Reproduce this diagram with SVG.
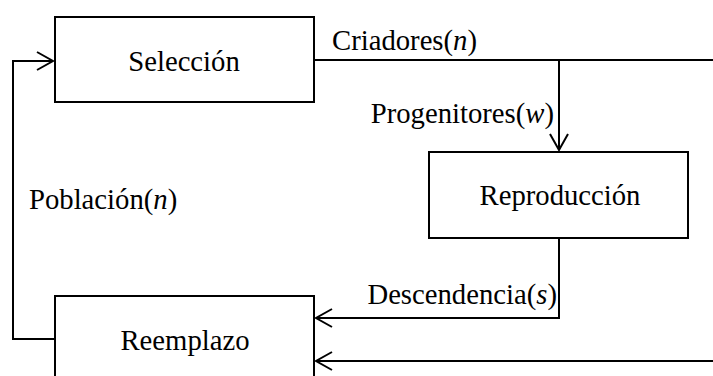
<svg xmlns="http://www.w3.org/2000/svg" width="713" height="376" viewBox="0 0 713 376">
<style>
.box{fill:#fff;stroke:#000;stroke-width:2}
.ln{fill:none;stroke:#000;stroke-width:2}
text{font-family:"Liberation Serif","Times New Roman",serif;font-size:28.7px;fill:#000}
.c{text-anchor:middle}
.e{text-anchor:end}
</style>
<defs>
<marker id="ah" markerUnits="userSpaceOnUse" markerWidth="20" markerHeight="22" viewBox="-18 -11 20 22" refX="0" refY="0" orient="auto">
<path d="M-16,-9 L0,0 L-16,9" fill="none" stroke="#000" stroke-width="2"/>
</marker>
</defs>
<rect width="713" height="376" fill="#fff"/>
<g id="connectors">
<path class="ln" d="M314,60 H713"/>
<path class="ln" d="M559,60 V150" marker-end="url(#ah)"/>
<path class="ln" d="M559,238 V318 H316" marker-end="url(#ah)"/>
<path class="ln" d="M713,361 H316" marker-end="url(#ah)"/>
<path class="ln" d="M55,339 H13 V61 H53" marker-end="url(#ah)"/>
<text x="332" y="50">Criadores(<tspan font-style="italic">n</tspan>)</text>
<text class="e" x="554" y="123">Progenitores(<tspan font-style="italic">w</tspan>)</text>
<text class="e" x="557" y="304">Descendencia(<tspan font-style="italic">s</tspan>)</text>
<text x="29" y="209">Población(<tspan font-style="italic">n</tspan>)</text>
</g>
<g id="seleccion">
<rect class="box" x="55" y="17" width="259" height="85"/>
<text class="c" x="184" y="71">Selección</text>
</g>
<g id="reproduccion">
<rect class="box" x="429" y="152" width="259" height="86"/>
<text class="c" x="560" y="205">Reproducción</text>
</g>
<g id="reemplazo">
<rect class="box" x="55" y="296" width="259" height="110"/>
<text class="c" x="185" y="350">Reemplazo</text>
</g>
</svg>
